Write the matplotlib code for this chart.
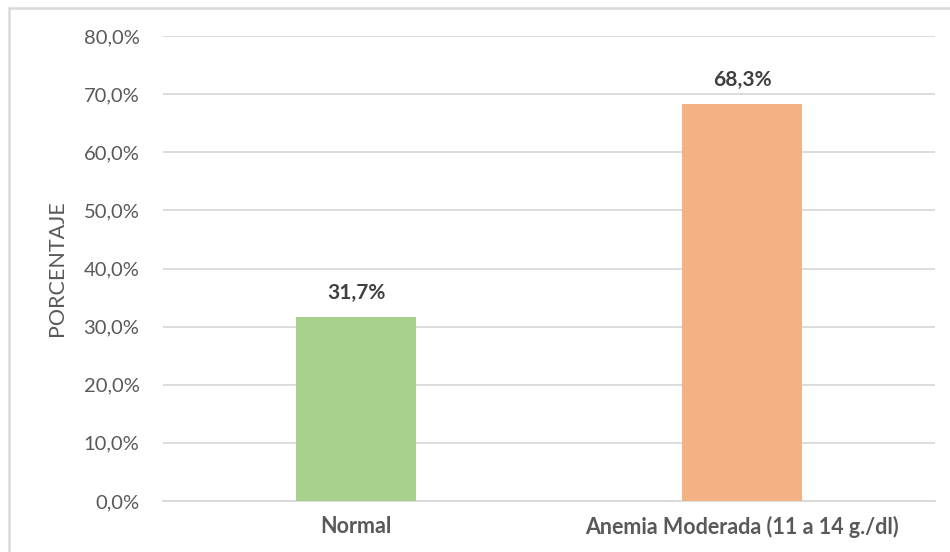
import matplotlib
matplotlib.use("Agg")
import matplotlib.pyplot as plt
from matplotlib.patches import Rectangle
from matplotlib.ticker import FuncFormatter

categories = ["Normal", "Anemia Moderada (11 a 14 g./dl)"]
values = [31.7, 68.3]
bar_colors = ["#a9d18e", "#f4b183"]
y_ticks = [0, 10, 20, 30, 40, 50, 60, 70, 80]

plt.rcParams["font.family"] = ["Lato", "DejaVu Sans"]

W, H = 950, 552
fig = plt.figure(figsize=(W / 100, H / 100), dpi=100)
fig.patch.set_facecolor("white")

# outer chart frame
fig.patches.append(Rectangle((9 / W, -0.05), 1.2, 1 - 8 / H + 0.05,
                             transform=fig.transFigure, fill=False,
                             edgecolor="#d9d9d9", linewidth=1.8))

ax = fig.add_axes([163 / W, 1 - 501 / H, (935 - 163) / W, (501 - 36) / H])
x = list(range(len(categories)))
bars = ax.bar(x, values, width=0.31, color=bar_colors, zorder=3)

ax.set_xlim(-0.5, len(categories) - 0.5)
ax.set_ylim(0, 80)
ax.set_yticks(y_ticks)
ax.yaxis.set_major_formatter(FuncFormatter(lambda v, p: f"{v:.1f}%".replace(".", ",")))
ax.grid(axis="y", color="#d9d9d9", linewidth=1.3, zorder=0)
ax.set_axisbelow(True)
for s in ["top", "right", "left"]:
    ax.spines[s].set_visible(False)
ax.spines["bottom"].set_color("#d9d9d9")
ax.spines["bottom"].set_linewidth(1.3)

ax.tick_params(axis="y", length=0, pad=17, labelsize=14.5, labelcolor="#595959")
ax.tick_params(axis="x", length=0, pad=11, labelsize=15.5, labelcolor="#595959")
ax.set_xticks(x)
ax.set_xticklabels(categories, fontweight="bold")

ax.set_ylabel("PORCENTAJE", fontsize=15.5, color="#595959", labelpad=12)

for b, v in zip(bars, values):
    ax.annotate(f"{v:.1f}%".replace(".", ","),
                (b.get_x() + b.get_width() / 2, v),
                xytext=(0, 10), textcoords="offset points",
                ha="center", va="bottom", fontsize=15, fontweight="bold",
                color="#404040")

fig.savefig("out.png", dpi=100)
